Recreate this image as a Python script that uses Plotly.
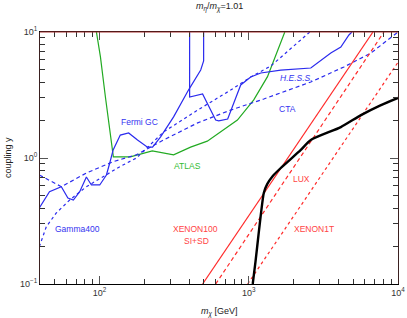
import plotly.graph_objects as go
import numpy as np

# ---------------- data ----------------
atlas_x = [95.5, 101.6, 109.7, 116.7, 124, 145, 161, 226, 314, 408, 528, 840, 1081, 1336, 1472, 1640, 1745]
atlas_y = [10, 6.34, 3.05, 1.67, 1.02, 1.02, 1.02, 1.14, 1.06, 1.22, 1.36, 2.0, 2.89, 4.42, 5.99, 8.33, 10]

fermi_x = [39.6, 46.3, 55.6, 61.5, 66.9, 73.8, 81.8, 88.4, 100.5, 111.4, 117.3, 123.6, 138, 157, 180, 210, 227, 257, 314, 395, 477, 499, 499]
fermi_y = [0.401, 0.54, 0.592, 0.482, 0.464, 0.54, 0.707, 0.611, 0.611, 0.733, 0.913, 1.16, 1.52, 1.58, 1.39, 1.22, 1.22, 1.47, 2.12, 3.46, 4.99, 5.89, 10]

hess_x = [402, 402, 491, 601, 630, 723, 884, 1031, 1205, 1640, 2605, 3548, 4141, 4692, 4912]
hess_y = [10, 3.05, 3.22, 2.00, 1.97, 2.04, 3.80, 4.39, 4.73, 4.99, 5.18, 6.81, 7.60, 9.47, 10]

gamma400_x = [39.6, 44.1, 51.4, 63.2, 81.8, 105.9, 137, 177, 269, 455, 757, 1031, 1406, 2566]
gamma400_y = [0.198, 0.285, 0.366, 0.464, 0.592, 0.711, 0.853, 1.0, 1.61, 2.40, 3.46, 4.39, 5.37, 10]

cta_x = [39.6, 55.6, 81.8, 123.6, 177, 269, 455, 757, 1262, 2605, 4343, 6591, 10000]
cta_y = [0.733, 0.592, 0.760, 0.935, 1.06, 1.39, 1.90, 2.40, 2.94, 4.01, 5.28, 6.81, 10]

xenon100_x = [491, 6797]
xenon100_y = [0.1, 10]

lux_x = [601, 8052]
lux_y = [0.1, 10]

xenon1t_x = [984, 10000]
xenon1t_y = [0.1, 5.75]

relic_x = [1064, 1110, 1167, 1205, 1262, 1330, 1450, 1640, 2234, 2605, 4141, 5649, 7690, 10000]
relic_y = [0.1, 0.15, 0.254, 0.353, 0.528, 0.62, 0.72, 0.833, 1.16, 1.39, 1.76, 2.19, 2.63, 3.0]

x_tickvals = [100, 1000, 10000]
x_ticktext = ["10<sup>2</sup>", "10<sup>3</sup>", "10<sup>4</sup>"]
y_tickvals = [0.1, 1, 10]
y_ticktext = ["10<sup>−1</sup>", "10<sup>0</sup>", "10<sup>1</sup>"]

# ---------------- figure ----------------
BLUE = "#2a2aee"
GREEN = "#22aa22"
RED = "#ff2a2a"

fig = go.Figure()

def add(x, y, color, width=1.2, dash="solid", shape="linear"):
    fig.add_trace(go.Scatter(x=x, y=y, mode="lines", showlegend=False,
                             line=dict(color=color, width=width, dash=dash, shape=shape,
                                       smoothing=0.6 if shape == "spline" else None),
                             hoverinfo="skip", cliponaxis=True))

add(atlas_x, atlas_y, GREEN)
add(gamma400_x, gamma400_y, BLUE, dash="dot")
add(cta_x, cta_y, BLUE, dash="4px,3px")
add(fermi_x, fermi_y, BLUE)
add(hess_x, hess_y, BLUE)
add(xenon100_x, xenon100_y, RED)
add(lux_x, lux_y, RED, dash="4px,3px")
add(xenon1t_x, xenon1t_y, RED, dash="dot")
add(relic_x, relic_y, "black", width=2.4, shape="spline")

minor_x = [m * 10 ** e for e in [1, 2, 3] for m in range(2, 10) if 40 <= m * 10 ** e <= 10000]
minor_y = [m * 10 ** e for e in [-1, 0] for m in range(2, 10)]

FONT = "Liberation Sans, Arial, sans-serif"

fig.update_xaxes(type="log", range=[np.log10(40), 4], showgrid=False, zeroline=False,
                 showline=True, linecolor="black", linewidth=1, mirror="allticks",
                 ticks="inside", ticklen=8, tickcolor="#555", tickwidth=1,
                 tickvals=x_tickvals, ticktext=x_ticktext, automargin=False,
                 tickfont=dict(size=9, color="#333", family=FONT),
                 minor=dict(tickvals=minor_x, ticks="inside", ticklen=5, tickcolor="#333", showgrid=False))
fig.update_yaxes(type="log", range=[-1, 1], showgrid=False, zeroline=False,
                 showline=True, linecolor="#3a2020", linewidth=1, mirror="allticks",
                 ticks="inside", ticklen=8, tickcolor="#555", tickwidth=1,
                 tickvals=y_tickvals, ticktext=y_ticktext, automargin=False,
                 tickfont=dict(size=9, color="#333", family=FONT),
                 minor=dict(tickvals=minor_y, ticks="inside", ticklen=5, tickcolor="#333", showgrid=False))

# red-tinted top border
fig.add_shape(type="line", xref="paper", yref="paper", x0=0, x1=1, y0=1, y1=1,
              line=dict(color="#a33", width=1))

def px2x(px):
    return 2 + (px - 99) / 149

def py2y(py):
    return (158 - py) / 126

def label(px, py, text, color, italic=False, size=8.5):
    t = f"<i>{text}</i>" if italic else text
    fig.add_annotation(x=px2x(px), y=py2y(py), text=t, showarrow=False,
                       font=dict(size=size, color=color, family=FONT))

label(139, 122, "Fermi GC", "#3434f0")
label(296, 78, "H.E.S.S.", "#3434f0", italic=True)
label(287, 109, "CTA", "#3434f0")
label(187, 166, "ATLAS", "#33bb33")
label(77, 229, "Gamma400", "#3434f0")
label(195, 229, "XENON100", "#ff4444")
label(196, 241, "SI+SD", "#ff4444")
label(301, 179, "LUX", "#ff4444")
label(313, 229, "XENON1T", "#ff4444")

# titles
fig.add_annotation(xref="paper", yref="paper", x=0.5, y=1, yanchor="middle", yshift=25, showarrow=False,
                   text="<i>m</i><sub><i>η</i></sub>/<i>m</i><sub><i>χ</i></sub>=1.01",
                   font=dict(size=9, color="#222", family=FONT))
fig.add_annotation(xref="paper", yref="paper", x=0.5, y=0, yanchor="middle", yshift=-28, showarrow=False,
                   text="<i>m</i><sub><i>χ</i></sub> [GeV]",
                   font=dict(size=9, color="#222", family=FONT))
fig.add_annotation(xref="paper", yref="paper", x=0, y=0.5, xanchor="center", xshift=-32, showarrow=False,
                   text="coupling y", textangle=-90,
                   font=dict(size=9, color="#222", family=FONT))

fig.update_layout(width=407, height=318, margin=dict(l=40, r=9, t=32, b=34, autoexpand=False),
                  plot_bgcolor="white", paper_bgcolor="white", showlegend=False)

fig.write_html("out.html", config={"displayModeBar": False, "staticPlot": True},
               post_script="document.body.style.margin='0px';document.body.style.overflow='hidden';")
